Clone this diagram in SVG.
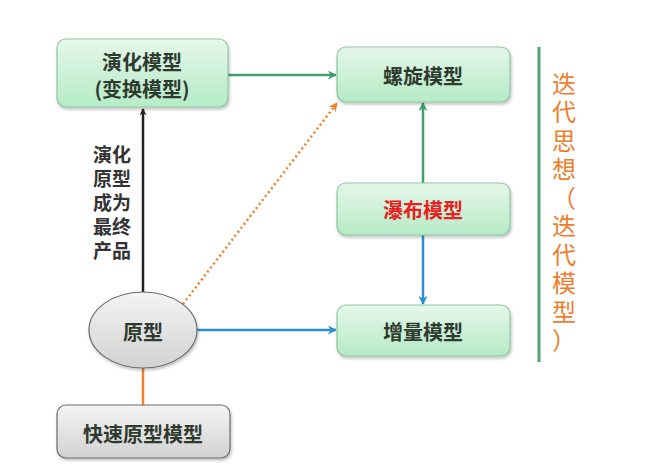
<svg xmlns="http://www.w3.org/2000/svg" width="656" height="469" viewBox="0 0 656 469">
<defs>
<linearGradient id="gGreen" x1="0" y1="0" x2="0" y2="1">
<stop offset="0" stop-color="#e6f7ea"/>
<stop offset="1" stop-color="#b5ebc6"/>
</linearGradient>
<linearGradient id="gGray" x1="0" y1="0" x2="0" y2="1">
<stop offset="0" stop-color="#f4f4f4"/>
<stop offset="1" stop-color="#d2d2d2"/>
</linearGradient>
<filter id="sh" x="-10%" y="-10%" width="130%" height="140%">
<feDropShadow dx="1" dy="2" stdDeviation="1.5" flood-color="#000" flood-opacity="0.25"/>
</filter>
<marker id="aBlack" viewBox="0 0 10 10" refX="9" refY="5" markerWidth="7" markerHeight="7" markerUnits="userSpaceOnUse" orient="auto"><path d="M0,0 L10,5 L0,10 L3,5 z" fill="#222"/></marker>
<marker id="aGreen" viewBox="0 0 10 10" refX="9" refY="5" markerWidth="9" markerHeight="9" markerUnits="userSpaceOnUse" orient="auto"><path d="M0,0 L10,5 L0,10 L3,5 z" fill="#3f9e6e"/></marker>
<marker id="aBlue" viewBox="0 0 10 10" refX="9" refY="5" markerWidth="9" markerHeight="9" markerUnits="userSpaceOnUse" orient="auto"><path d="M0,0 L10,5 L0,10 L3,5 z" fill="#2b8fd6"/></marker>
<marker id="aOrange" viewBox="0 0 10 10" refX="9" refY="5" markerWidth="9" markerHeight="9" markerUnits="userSpaceOnUse" orient="auto"><path d="M0,0 L10,5 L0,10 L3,5 z" fill="#f07f2a"/></marker>
</defs>
<style>
.box{fill:url(#gGreen);stroke:#8cc79e;stroke-width:1.2;filter:url(#sh)}
.gbox{fill:url(#gGray);stroke:#6b6b6b;stroke-width:1.2;filter:url(#sh)}
.t{font-family:"Noto Sans CJK SC","Noto Sans",sans-serif;font-weight:bold;font-size:20px;fill:#2f3a2f;text-anchor:middle;dominant-baseline:central}
.lab{font-family:"Liberation Sans","Noto Sans CJK SC",sans-serif;font-weight:bold;font-size:19px;fill:#333;text-anchor:middle;dominant-baseline:central}
.side{font-family:"Liberation Sans","Noto Sans CJK SC",sans-serif;font-size:24px;fill:#ee7d2b;text-anchor:middle;dominant-baseline:central}
</style>
<g id="connectors" fill="none">
<line x1="228" y1="75" x2="336" y2="75" stroke="#3f9e6e" stroke-width="2.5" marker-end="url(#aGreen)"/>
<line x1="143" y1="292" x2="143" y2="109" stroke="#222" stroke-width="2.5" marker-end="url(#aBlack)"/>
<line x1="183" y1="304" x2="337" y2="103" stroke="#f07f2a" stroke-width="2.5" stroke-dasharray="2 3" marker-end="url(#aOrange)"/>
<line x1="197" y1="330" x2="336" y2="330" stroke="#2b8fd6" stroke-width="2.5" marker-end="url(#aBlue)"/>
<line x1="423" y1="183" x2="423" y2="103" stroke="#3f9e6e" stroke-width="2.5" marker-end="url(#aGreen)"/>
<line x1="423" y1="235" x2="423" y2="304" stroke="#2b8fd6" stroke-width="2.5" marker-end="url(#aBlue)"/>
<line x1="143" y1="368" x2="143" y2="405" stroke="#f07f2a" stroke-width="2.5"/>
</g>
<g id="label-evolve">
<text class="lab" x="112" y="155">演化</text>
<text class="lab" x="112" y="179">原型</text>
<text class="lab" x="112" y="203">成为</text>
<text class="lab" x="112" y="227">最终</text>
<text class="lab" x="112" y="251">产品</text>
</g>
<g id="node-evolution">
<rect class="box" x="57" y="39" width="171" height="68" rx="9"/>
<text class="t" x="142" y="61">演化模型</text>
<text class="t" x="142" y="88">(变换模型)</text>
</g>
<g id="node-spiral">
<rect class="box" x="337" y="47" width="173" height="55" rx="9"/>
<text class="t" x="423" y="75">螺旋模型</text>
</g>
<g id="node-waterfall">
<rect class="box" x="337" y="183" width="173" height="52" rx="9"/>
<text class="t" x="423" y="209" style="fill:#e8201f">瀑布模型</text>
</g>
<g id="node-incremental">
<rect class="box" x="337" y="305" width="173" height="51" rx="9"/>
<text class="t" x="423" y="331">增量模型</text>
</g>
<g id="node-prototype">
<ellipse cx="143" cy="330" rx="54" ry="38" fill="url(#gGray)" stroke="#6b6b6b" stroke-width="1.2" filter="url(#sh)"/>
<text class="t" x="143" y="331">原型</text>
</g>
<g id="node-rapid">
<rect class="gbox" x="57" y="405" width="173" height="53" rx="9"/>
<text class="t" x="143" y="433">快速原型模型</text>
</g>
<g id="iteration">
<line x1="539" y1="47" x2="539" y2="362" stroke="#4fa673" stroke-width="3"/>
<text class="side" x="564" y="84">迭</text>
<text class="side" x="564" y="112.5">代</text>
<text class="side" x="564" y="141">思</text>
<text class="side" x="564" y="169.5">想</text>
<text class="side" x="564" y="198">（</text>
<text class="side" x="564" y="226.5">迭</text>
<text class="side" x="564" y="255">代</text>
<text class="side" x="564" y="283.5">模</text>
<text class="side" x="564" y="312">型</text>
<text class="side" x="564" y="340.5">）</text>
</g>
</svg>
